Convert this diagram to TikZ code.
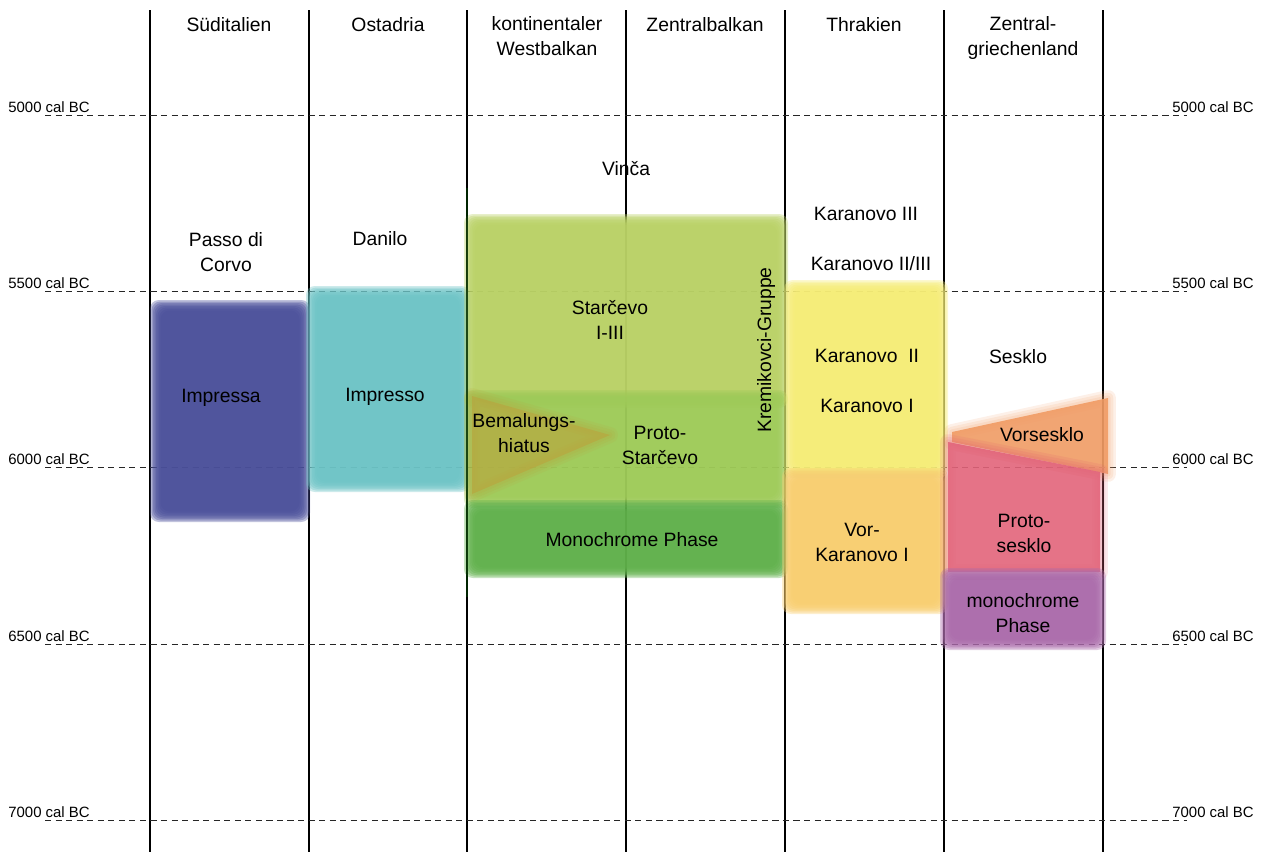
\documentclass[tikz,border=0pt]{standalone}
\usepackage{fontspec}
\setmainfont{Liberation Sans}
\usepackage{tikz}
\usetikzlibrary{calc}
\usetikzlibrary{positioning}
\definecolor{impressa}{RGB}{74,79,154}
\definecolor{impresso}{RGB}{108,195,197}
\definecolor{starcevo}{RGB}{185,209,101}
\definecolor{protostar}{RGB}{158,202,88}
\definecolor{hiatus}{RGB}{184,165,62}
\definecolor{monogreen}{RGB}{95,176,74}
\definecolor{karanovo}{RGB}{245,236,118}
\definecolor{vorkaranovo}{RGB}{248,205,110}
\definecolor{vorsesklo}{RGB}{240,155,100}
\definecolor{protosesklo}{RGB}{226,100,122}
\definecolor{monopurple}{RGB}{170,106,170}
\tikzstyle{phase} = [font=\fontsize{11}{14.2}\selectfont,
align=center,
inner sep=0pt]
\tikzstyle{datum} = [font=\fontsize{8.5}{10}\selectfont,
inner sep=0pt,
anchor=west]
\tikzstyle{border} = [draw,
line width=1.1pt,
black]
\tikzstyle{datumline} = [draw,
dash pattern=on 3.5pt off 2.5pt,
line width=0.5pt,
black!85]
% blurred block: colour, left, top, right, bottom (in px)
\newcommand{\softpatch}[5]{%
\foreach \k in {0,...,7}{%
\fill[#1, opacity=0.35, rounded corners=5pt] ($(#2,#3)+(\k*1.5,\k*1.5)$) rectangle ($(#4,#5)-(\k*1.5,\k*1.5)$);}}
% blurred polygon: colour, opacity, path
\newcommand{\softpoly}[3]{%
\foreach \w in {9,6,3}{%
\draw[#1, opacity=0.15, line width=\w pt, line join=round] #3;}
\fill[#1, opacity=#2] #3;}

\begin{document}
\begin{tikzpicture}[x=0.02cm, y=-0.02cm]
	\useasboundingbox (0,0) rectangle (1265,852);
	%% Grid
	\foreach \px in {150,309,467,626,785,944,1103}
		\draw [border] (\px,10) -- (\px,852);
	\foreach \yr/\py in {5000/115,5500/291,6000/467,6500/644,7000/820} {
		\coordinate (w\yr) at (45,\py);
		\coordinate (e\yr) at (1187,\py);
		\path [datumline] (w\yr) -- (e\yr);
		\node [datum] (lw\yr) at (8,\py-8) {\yr{} cal BC};
		\node [datum] (le\yr) at (1172,\py-8) {\yr{} cal BC};
	}
	%% Blocks
	\softpatch{impressa}{150}{300}{310}{522}
	\softpatch{impresso}{306}{286}{470}{492}
	\softpatch{starcevo}{464}{214}{788}{408}
	\softpatch{protostar}{464}{390}{788}{508}
	\softpoly{hiatus}{0.65}{(472,396) -- (610,435) -- (472,494) -- cycle}
	\softpatch{monogreen}{464}{500}{788}{578}
	\softpatch{karanovo}{784}{280}{948}{478}
	\softpatch{vorkaranovo}{782}{468}{948}{614}
	\softpoly{vorsesklo}{0.9}{(952,432) -- (1108,398) -- (1108,474) -- (952,442) -- cycle}
	\softpoly{protosesklo}{0.9}{(948,442) -- (1100,472) -- (1100,572) -- (948,572) -- cycle}
	\softpatch{monopurple}{940}{568}{1106}{650}
	\draw [line width=1.5pt, black!75!green!70!black, opacity=0.8] (467,188) -- (467,597);
	%% Regions
	\node [phase] (hSued) at (229,25) {Süditalien};
	\node [phase] (hOst) at (388,25) {Ostadria};
	\node [phase, anchor=north] (hWest) at (547,16) {kontinentaler\\Westbalkan};
	\node [phase] (hZentral) at (705,25) {Zentralbalkan};
	\node [phase] (hThrak) at (864,25) {Thrakien};
	\node [phase, anchor=north] (hGriech) at (1023,16) {Zentral-\\griechenland};
	%% Phases
	\node [phase] (Vinca) at (626,169) {Vinča};
	\node [phase] (Passo) at (226,252) {Passo di\\Corvo};
	\node [phase] (Danilo) at (380,239) {Danilo};
	\node [phase] (Impressa) at (221,398) {Impressa};
	\node [phase] (Impresso) at (385,397) {Impresso};
	\node [phase] (Starcevo) at (610,320) {Starčevo\\I-III};
	\node [phase] (Hiatus) at (524,433) {Bemalungs-\\hiatus};
	\node [phase] (ProtoStar) at (660,445) {Proto-\\Starčevo};
	\node [phase] (MonoGreen) at (632,540) {Monochrome Phase};
	\node [phase, rotate=90] (Kremik) at (766,350) {Kremikovci-Gruppe};
	\node [phase] (KarIII) at (866,214) {Karanovo III};
	\node [phase] (KarIIIII) at (871,264) {Karanovo II/III};
	\node [phase] (KarII) at (867,356) {Karanovo\ \ II};
	\node [phase] (KarI) at (867,406) {Karanovo I};
	\node [phase] (VorKar) at (862,542) {Vor-\\Karanovo I};
	\node [phase] (Sesklo) at (1018,357) {Sesklo};
	\node [phase] (Vorsesklo) at (1042,435) {Vorsesklo};
	\node [phase] (ProtoSes) at (1024,533) {Proto-\\sesklo};
	\node [phase] (MonoPurple) at (1023,613) {monochrome\\Phase};
\end{tikzpicture}
\end{document}
